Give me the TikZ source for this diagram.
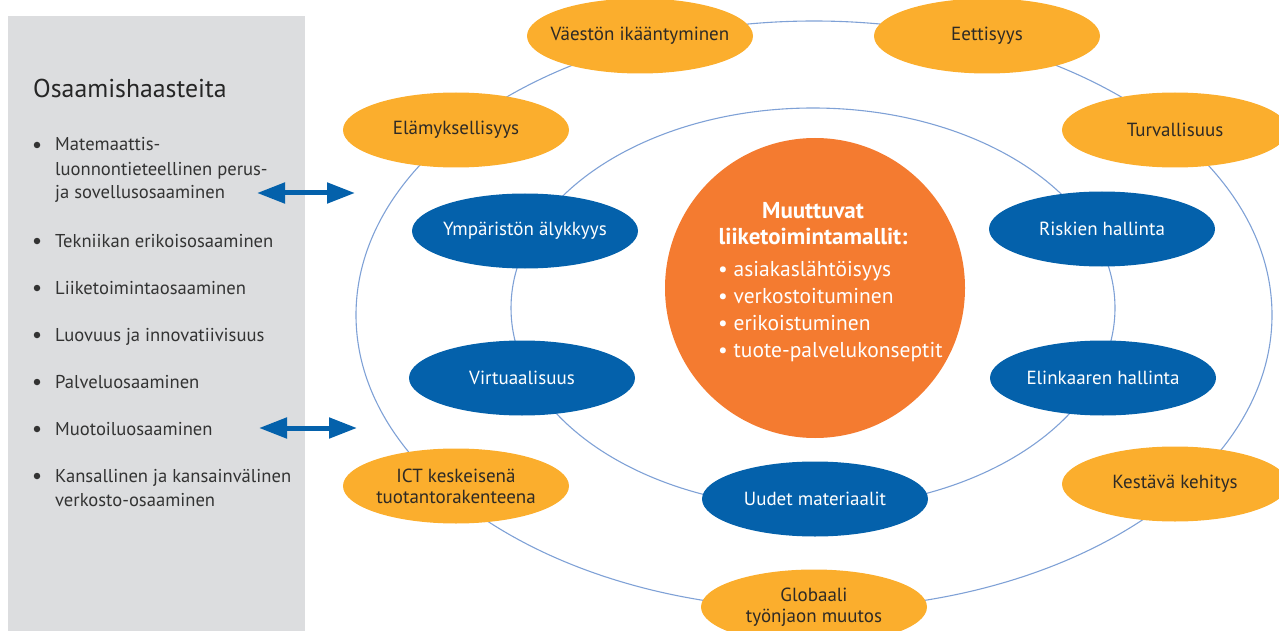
\documentclass[tikz,border=0pt]{standalone}
\usepackage{fontspec}
\setmainfont{PT Sans}
\usetikzlibrary{positioning,arrows.meta,shapes.geometric}
\definecolor{panelgray}{HTML}{DCDDDF}
\definecolor{trendorange}{HTML}{FBAE2D}
\definecolor{techblue}{HTML}{0461AB}
\definecolor{coreorange}{HTML}{F47B30}
\definecolor{ringblue}{HTML}{7FA1D6}
\definecolor{txtdark}{HTML}{2E2A25}
\tikzset{
  trend/.style={ellipse,fill=trendorange,minimum width=226pt,minimum height=75pt,
    inner xsep=-12pt,inner ysep=0pt,text=txtdark,align=center,font=\fontsize{19}{21}\selectfont},
  tech/.style={ellipse,fill=techblue,minimum width=226pt,minimum height=75pt,
    inner xsep=-12pt,inner ysep=0pt,text=white,align=center,font=\fontsize{19}{21}\selectfont},
  core/.style={circle,fill=coreorange,minimum size=300pt,inner sep=0pt},
  ring/.style={ringblue,line width=1.1pt},
  dblarrow/.style={{Triangle[length=28pt,width=20pt]}-{Triangle[length=28pt,width=20pt]},
    techblue,line width=5pt},
  item/.style={anchor=base west,align=left,inner sep=0pt,text=black!80,
    font=\fontsize{18.6}{24}\selectfont},
  bul/.style={circle,fill=black!80,inner sep=0pt,minimum size=6.5pt},
}
\begin{document}
\begin{tikzpicture}[x=1pt,y=-1pt]
  \useasboundingbox (0,0) rectangle (1279,631);
  \clip (0,0) rectangle (1279,631);
  % left panel
  \fill[panelgray] (8,16) rectangle (305,631);
  \node[anchor=base west,inner sep=0pt,text=black!85,font=\fontsize{25.8}{28}\selectfont]
    (ttl) at (33,98) {Osaamishaasteita};
  % multi-line items sit on their last baseline
  \node[item] (i1) at (55,199) {Matemaattis-\\luonnontieteellinen perus-\\ja sovellusosaaminen};
  \node[item] (i2) at (55,247) {Tekniikan erikoisosaaminen};
  \node[item] (i3) at (55,294) {Liiketoimintaosaaminen};
  \node[item] (i4) at (55,341) {Luovuus ja innovatiivisuus};
  \node[item] (i5) at (55,388) {Palveluosaaminen};
  \node[item] (i6) at (55,435) {Muotoiluosaaminen};
  \node[item] (i7) at (55,506) {Kansallinen ja kansainvälinen\\verkosto-osaaminen};
  \foreach \yb [count=\k] in {151,247,294,341,388,435,482}
    \node[bul] (b\k) at (37,\yb-6) {};
  % arrows to the outer ring
  \coordinate (m1l) at (257,193);
  \coordinate (m1r) at (355,193);
  \coordinate (m2l) at (259,428);
  \coordinate (m2r) at (357,428);
  \draw[dblarrow] (m1l) -- (m1r);
  \draw[dblarrow] (m2l) -- (m2r);
  % rings
  \draw[ring] (814,315) ellipse [x radius=458, y radius=294];
  \draw[ring] (813,308) ellipse [x radius=302, y radius=200];
  % outer ring: trends
  \node[trend] (vaesto) at (640,36) {Väestön ikääntyminen};
  \node[trend] (etiikka) at (987,36) {Eettisyys};
  \node[trend] (elamys) at (456,130) {Elämyksellisyys};
  \node[trend] (turva) at (1175,130) {Turvallisuus};
  \node[trend] (ict) at (456,486) {ICT keskeisenä\\tuotantorakenteena};
  \node[trend] (kestava) at (1175,484) {Kestävä kehitys};
  \node[trend] (globaali) at (814,607) {Globaali\\työnjaon muutos};
  % inner ring: technologies
  \node[tech] (ymparisto) at (525,231) {Ympäristön älykkyys};
  \node[tech] (riski) at (1102,229) {Riskien hallinta};
  \node[tech] (virtuaali) at (522,378) {Virtuaalisuus};
  \node[tech] (elinkaari) at (1103,378) {Elinkaaren hallinta};
  \node[tech] (materiaali) at (815,499) {Uudet materiaalit};
  % core
  \node[core] (core) at (815,288) {};
  \node[text=white,align=center,inner sep=0pt,font=\fontsize{23}{26}\selectfont\bfseries]
    (ctitle) at (813,224) {Muuttuvat\\liiketoimintamallit:};
  \node[text=white,align=left,anchor=west,inner sep=0pt,font=\fontsize{21.5}{27}\selectfont]
    (clist) at (718,312) {\textbullet\ asiakaslähtöisyys\\\textbullet\ verkostoituminen\\
      \textbullet\ erikoistuminen\\\textbullet\ tuote-palvelukonseptit};
\end{tikzpicture}
\end{document}
